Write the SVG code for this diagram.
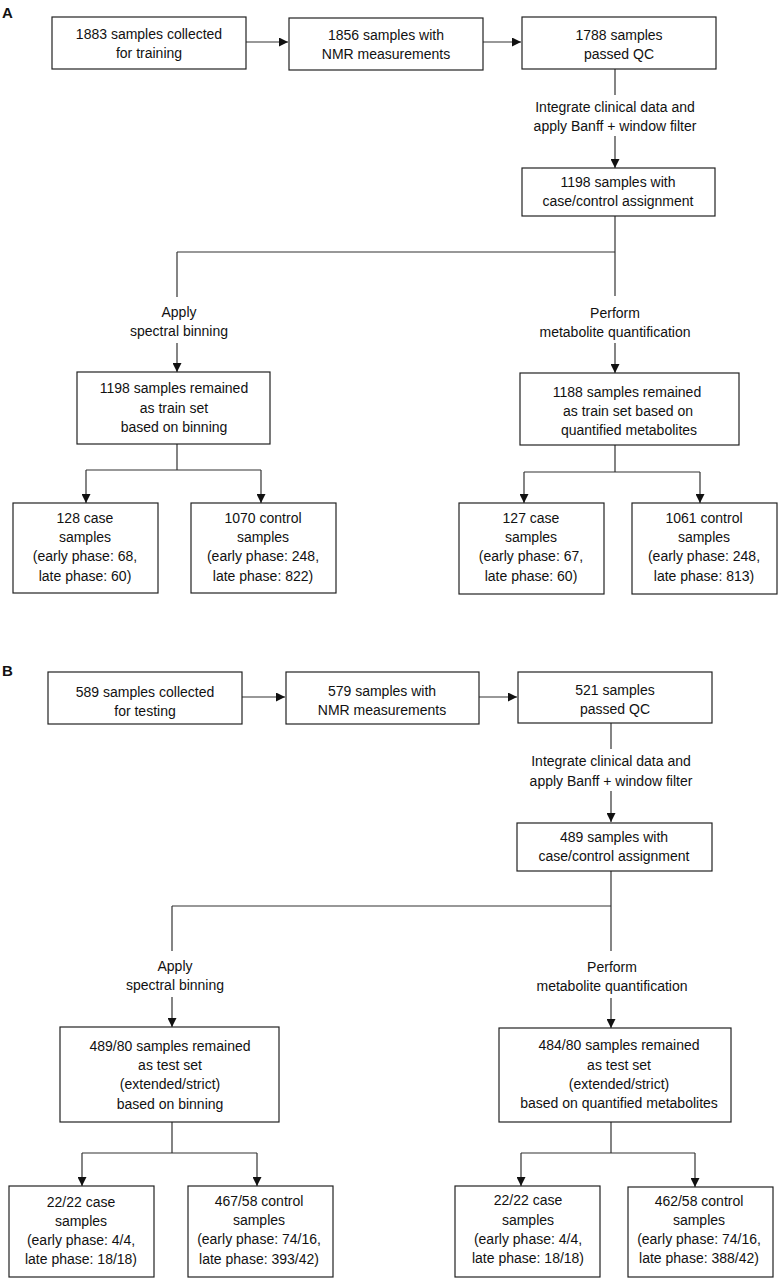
<svg xmlns="http://www.w3.org/2000/svg" width="778" height="1278" viewBox="0 0 778 1278">
<style>
.box{fill:#fff;stroke:#222;stroke-width:1.2}
.t{font-family:"Liberation Sans",Arial,sans-serif;font-size:14px;fill:#111;text-anchor:middle}
.lbl{font-family:"Liberation Sans",Arial,sans-serif;font-size:15px;font-weight:bold;fill:#111}
.c{fill:none;stroke:#333;stroke-width:1.2}
.a{marker-end:url(#arr)}
</style>
<defs>
<marker id="arr" markerUnits="userSpaceOnUse" markerWidth="9" markerHeight="9" refX="9" refY="4.5" orient="auto">
<path d="M0,0 L9,4.5 L0,9 z" fill="#111"/>
</marker>
</defs>
<rect width="778" height="1278" fill="#fff"/>
<text class="lbl" x="2" y="18">A</text>
<text class="lbl" x="2" y="676">B</text>

<g id="connectors">
<path class="c a" d="M246,42 H288"/>
<path class="c a" d="M483,42 H521"/>
<path class="c" d="M615,69 V95"/>
<path class="c a" d="M615,136 V168"/>
<path class="c" d="M615,216 V296"/>
<path class="c" d="M177,252 H615"/>
<path class="c" d="M177,252 V297"/>
<path class="c a" d="M177,343 V372"/>
<path class="c a" d="M615,343 V373"/>
<path class="c" d="M177,444 V470 M86,470 H261"/>
<path class="c a" d="M86,470 V503"/>
<path class="c a" d="M261,470 V503"/>
<path class="c" d="M615,445 V472 M524,472 H700"/>
<path class="c a" d="M524,472 V503"/>
<path class="c a" d="M700,472 V503"/>

<path class="c a" d="M242,697 H285"/>
<path class="c a" d="M479,697 H517"/>
<path class="c" d="M611,723 V749"/>
<path class="c a" d="M611,791 V822"/>
<path class="c" d="M611,871 V951"/>
<path class="c" d="M172,906 H611"/>
<path class="c" d="M172,906 V951"/>
<path class="c a" d="M172,997 V1027"/>
<path class="c a" d="M611,998 V1028"/>
<path class="c" d="M172,1122 V1153 M82,1153 H257"/>
<path class="c a" d="M82,1153 V1186"/>
<path class="c a" d="M257,1153 V1186"/>
<path class="c" d="M611,1122 V1153 M521,1153 H695"/>
<path class="c a" d="M521,1153 V1186"/>
<path class="c a" d="M695,1153 V1187"/>
</g>

<g id="labels">
<text class="t" x="615" y="112">Integrate clinical data and</text>
<text class="t" x="615" y="131">apply Banff + window filter</text>
<text class="t" x="179" y="317">Apply</text>
<text class="t" x="179" y="336">spectral binning</text>
<text class="t" x="615" y="318">Perform</text>
<text class="t" x="615" y="337">metabolite quantification</text>
<text class="t" x="611" y="766">Integrate clinical data and</text>
<text class="t" x="611" y="786">apply Banff + window filter</text>
<text class="t" x="175" y="971">Apply</text>
<text class="t" x="175" y="990">spectral binning</text>
<text class="t" x="612" y="972">Perform</text>
<text class="t" x="612" y="991">metabolite quantification</text>
</g>

<g id="n1"><rect class="box" x="52" y="17" width="194" height="52"/>
<text class="t" x="149" y="39">1883 samples collected</text><text class="t" x="149" y="58">for training</text></g>
<g id="n2"><rect class="box" x="289" y="18" width="194" height="52"/>
<text class="t" x="386" y="40">1856 samples with</text><text class="t" x="386" y="59">NMR measurements</text></g>
<g id="n3"><rect class="box" x="522" y="17" width="194" height="52"/>
<text class="t" x="619" y="40">1788 samples</text><text class="t" x="619" y="59">passed QC</text></g>
<g id="n4"><rect class="box" x="522" y="168" width="193" height="48"/>
<text class="t" x="618" y="187">1198 samples with</text><text class="t" x="618" y="206">case/control assignment</text></g>
<g id="n5"><rect class="box" x="77" y="372" width="193" height="72"/>
<text class="t" x="174" y="393">1198 samples remained</text><text class="t" x="174" y="413">as train set</text><text class="t" x="174" y="432">based on binning</text></g>
<g id="n6"><rect class="box" x="13" y="503" width="145" height="90"/>
<text class="t" x="85" y="523">128 case</text><text class="t" x="85" y="542">samples</text><text class="t" x="85" y="561">(early phase: 68,</text><text class="t" x="85" y="581">late phase: 60)</text></g>
<g id="n7"><rect class="box" x="191" y="503" width="145" height="90"/>
<text class="t" x="263" y="523">1070 control</text><text class="t" x="263" y="542">samples</text><text class="t" x="263" y="561">(early phase: 248,</text><text class="t" x="263" y="581">late phase: 822)</text></g>
<g id="n8"><rect class="box" x="520" y="373" width="219" height="72"/>
<text class="t" x="627" y="397">1188 samples remained</text><text class="t" x="628" y="416">as train set based on</text><text class="t" x="629" y="435">quantified metabolites</text></g>
<g id="n9"><rect class="box" x="459" y="503" width="145" height="91"/>
<text class="t" x="531" y="523">127 case</text><text class="t" x="531" y="542">samples</text><text class="t" x="531" y="561">(early phase: 67,</text><text class="t" x="531" y="581">late phase: 60)</text></g>
<g id="n10"><rect class="box" x="632" y="503" width="145" height="91"/>
<text class="t" x="704" y="523">1061 control</text><text class="t" x="704" y="542">samples</text><text class="t" x="704" y="561">(early phase: 248,</text><text class="t" x="704" y="581">late phase: 813)</text></g>

<g id="n11"><rect class="box" x="48" y="672" width="194" height="52"/>
<text class="t" x="145" y="697">589 samples collected</text><text class="t" x="145" y="716">for testing</text></g>
<g id="n12"><rect class="box" x="286" y="672" width="193" height="52"/>
<text class="t" x="382" y="696">579 samples with</text><text class="t" x="382" y="715">NMR measurements</text></g>
<g id="n13"><rect class="box" x="518" y="672" width="194" height="51"/>
<text class="t" x="615" y="695">521 samples</text><text class="t" x="615" y="714">passed QC</text></g>
<g id="n14"><rect class="box" x="517" y="823" width="195" height="48"/>
<text class="t" x="614" y="842">489 samples with</text><text class="t" x="614" y="861">case/control assignment</text></g>
<g id="n15"><rect class="box" x="60" y="1027" width="219" height="95"/>
<text class="t" x="170" y="1051">489/80 samples remained</text><text class="t" x="170" y="1070">as test set</text><text class="t" x="170" y="1089">(extended/strict)</text><text class="t" x="170" y="1109">based on binning</text></g>
<g id="n16"><rect class="box" x="9" y="1186" width="145" height="91"/>
<text class="t" x="81" y="1207">22/22 case</text><text class="t" x="81" y="1226">samples</text><text class="t" x="81" y="1245">(early phase: 4/4,</text><text class="t" x="81" y="1264">late phase: 18/18)</text></g>
<g id="n17"><rect class="box" x="188" y="1186" width="145" height="91"/>
<text class="t" x="259" y="1206">467/58 control</text><text class="t" x="259" y="1225">samples</text><text class="t" x="259" y="1244">(early phase: 74/16,</text><text class="t" x="259" y="1264">late phase: 393/42)</text></g>
<g id="n18"><rect class="box" x="499" y="1028" width="232" height="94"/>
<text class="t" x="619" y="1050">484/80 samples remained</text><text class="t" x="619" y="1070">as test set</text><text class="t" x="619" y="1089">(extended/strict)</text><text class="t" x="619" y="1108">based on quantified metabolites</text></g>
<g id="n19"><rect class="box" x="455" y="1186" width="145" height="91"/>
<text class="t" x="528" y="1205">22/22 case</text><text class="t" x="528" y="1225">samples</text><text class="t" x="528" y="1244">(early phase: 4/4,</text><text class="t" x="528" y="1263">late phase: 18/18)</text></g>
<g id="n20"><rect class="box" x="628" y="1187" width="145" height="90"/>
<text class="t" x="699" y="1206">462/58 control</text><text class="t" x="699" y="1225">samples</text><text class="t" x="699" y="1244">(early phase: 74/16,</text><text class="t" x="699" y="1263">late phase: 388/42)</text></g>
</svg>
